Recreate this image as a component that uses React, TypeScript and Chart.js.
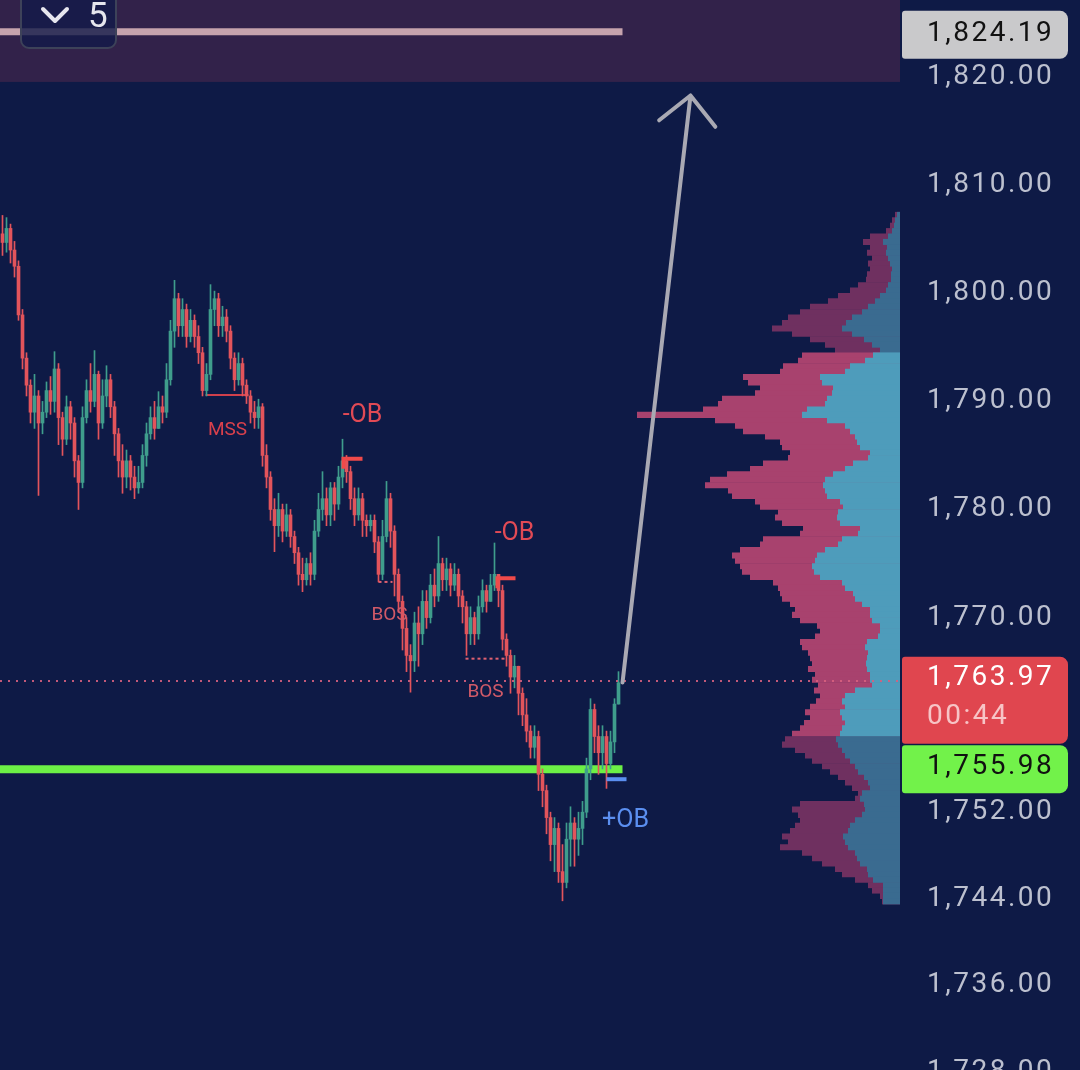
import React, { useEffect, useRef } from 'react';
import { Chart, registerables } from 'chart.js';

Chart.register(...registerables);

// ---------- price candles (5-min) ----------
const firstOpen = 1805.5;
const closes = [
  1804.7, 1806.0, 1804.0, 1802.5, 1798.0, 1794.0, 1791.5, 1789.0, 1790.5, 1788.0,
  1789.0, 1791.0, 1790.0, 1793.0, 1788.5, 1786.5, 1789.5, 1788.0, 1784.5, 1782.5,
  1788.5, 1791.0, 1790.0, 1792.5, 1788.0, 1790.5, 1792.0, 1789.5, 1787.0, 1784.5,
  1783.0, 1784.5, 1783.0, 1782.0, 1782.5, 1785.0, 1787.0, 1788.5, 1787.5, 1789.5,
  1789.0, 1792.0, 1796.5, 1799.5, 1797.0, 1798.5, 1796.0, 1797.5, 1796.0, 1794.5,
  1791.0, 1792.5, 1798.5, 1799.5, 1797.0, 1797.8, 1796.5, 1794.0, 1792.0, 1793.5,
  1791.5, 1790.5, 1789.0, 1788.5, 1789.5, 1785.0, 1783.0, 1780.0, 1778.5, 1780.0,
  1778.0, 1779.5, 1777.5, 1776.0, 1774.0, 1773.5, 1775.0, 1774.0, 1778.0, 1780.0,
  1781.0, 1779.5, 1782.0, 1780.5, 1783.0, 1784.5, 1783.5, 1781.0, 1779.5, 1781.0,
  1779.0, 1778.5, 1779.0, 1777.0, 1774.0, 1777.5, 1781.0, 1778.0, 1774.0, 1771.5,
  1769.0, 1766.5, 1766.0, 1769.5, 1768.5, 1771.5, 1770.0, 1773.0, 1772.0, 1775.0,
  1773.5, 1774.5, 1773.0, 1774.0, 1772.0, 1771.0, 1768.5, 1770.0, 1768.5, 1771.0,
  1772.5, 1771.5, 1773.0, 1774.0, 1772.5, 1768.0, 1766.5, 1764.5, 1765.5, 1763.0,
  1761.0, 1759.5, 1758.0, 1759.0, 1755.5, 1754.0, 1751.5, 1749.0, 1750.5, 1746.5,
  1745.5, 1749.5, 1751.0, 1749.5, 1750.5, 1752.0, 1756.0, 1761.5, 1759.0, 1757.5,
  1759.0, 1756.5, 1758.5, 1762.0, 1763.97,
];
const highs = [
  1807.2, 1807.0, 1806.4, 1804.8, 1803.0, 1798.5, 1794.5, 1792.0, 1792.5, 1791.0,
  1790.0, 1791.8, 1792.3, 1794.6, 1793.5, 1789.0, 1790.5, 1790.0, 1788.5, 1785.0,
  1789.5, 1792.0, 1793.5, 1794.7, 1792.8, 1792.0, 1793.3, 1792.5, 1790.0, 1787.5,
  1786.0, 1785.5, 1785.0, 1784.0, 1784.0, 1786.0, 1788.0, 1789.5, 1790.0, 1790.9,
  1790.5, 1793.5, 1797.5, 1801.2, 1800.0, 1799.5, 1799.0, 1798.5, 1798.0, 1797.0,
  1795.0, 1793.5, 1800.8, 1800.2, 1800.0, 1798.8, 1798.5, 1797.0, 1794.5, 1794.5,
  1794.0, 1792.0, 1791.0, 1790.0, 1790.2, 1789.8, 1786.0, 1783.5, 1781.0, 1781.5,
  1780.5, 1780.5, 1780.0, 1778.0, 1776.5, 1775.5, 1775.5, 1776.0, 1779.0, 1781.5,
  1783.5, 1782.0, 1782.5, 1782.5, 1784.0, 1786.5, 1785.0, 1784.0, 1782.0, 1782.0,
  1781.5, 1779.5, 1779.5, 1779.5, 1777.5, 1779.0, 1782.6, 1781.5, 1778.5, 1774.5,
  1772.0, 1770.0, 1767.5, 1770.5, 1771.0, 1772.5, 1772.5, 1774.0, 1774.5, 1777.5,
  1775.5, 1775.5, 1775.0, 1775.0, 1774.5, 1772.5, 1771.5, 1771.0, 1770.5, 1772.0,
  1773.5, 1773.0, 1774.0, 1776.9, 1774.0, 1773.0, 1768.5, 1767.0, 1766.5, 1765.5,
  1763.5, 1762.5, 1760.0, 1760.0, 1759.5, 1756.0, 1754.5, 1752.0, 1751.5, 1751.0,
  1749.0, 1751.0, 1752.5, 1751.5, 1752.0, 1753.0, 1757.0, 1762.5, 1762.0, 1760.0,
  1760.0, 1759.5, 1759.5, 1762.5, 1765.0,
];
const lows = [
  1803.5, 1803.8, 1802.8, 1801.5, 1797.5, 1793.0, 1790.5, 1788.0, 1787.5, 1781.3,
  1787.0, 1788.5, 1788.8, 1789.0, 1786.0, 1785.0, 1786.0, 1786.5, 1783.0, 1780.0,
  1782.0, 1788.0, 1789.0, 1789.5, 1786.5, 1787.5, 1789.5, 1788.5, 1785.0, 1783.0,
  1781.5, 1782.0, 1781.8, 1781.0, 1781.5, 1782.0, 1784.0, 1786.5, 1786.5, 1787.5,
  1788.0, 1788.5, 1791.5, 1795.0, 1796.0, 1796.0, 1795.0, 1795.5, 1795.0, 1793.5,
  1790.5, 1790.5, 1792.0, 1797.0, 1796.0, 1796.0, 1795.5, 1793.0, 1791.0, 1791.5,
  1790.5, 1789.8, 1788.0, 1787.5, 1787.5, 1784.0, 1782.0, 1779.0, 1776.1, 1777.5,
  1777.0, 1777.5, 1776.5, 1775.0, 1773.0, 1772.4, 1773.0, 1773.0, 1773.5, 1777.5,
  1779.0, 1778.5, 1778.5, 1779.0, 1780.0, 1782.0, 1782.5, 1780.0, 1778.5, 1779.0,
  1777.5, 1777.5, 1778.0, 1776.0, 1773.3, 1773.5, 1777.0, 1776.5, 1772.0, 1770.5,
  1767.0, 1765.0, 1763.1, 1765.0, 1765.5, 1767.5, 1769.0, 1769.5, 1771.0, 1771.5,
  1772.5, 1772.5, 1772.0, 1772.5, 1771.0, 1769.5, 1766.5, 1767.5, 1767.5, 1768.0,
  1770.5, 1770.5, 1771.5, 1772.5, 1771.0, 1767.0, 1765.5, 1763.0, 1763.5, 1761.0,
  1760.0, 1758.5, 1757.0, 1757.0, 1754.0, 1752.5, 1750.0, 1747.5, 1746.5, 1745.5,
  1743.8, 1745.0, 1747.0, 1747.0, 1748.0, 1749.0, 1751.5, 1755.0, 1757.5, 1755.5,
  1756.0, 1754.2, 1756.0, 1757.5, 1762.0,
];

// ---------- volume profile (rows of 0.5, from the top row down) ----------
const profileTopRow = 1807.25;
const profileRowSize = 0.5;
const profileTotal = [
  5, 8, 10, 14, 30, 37, 30, 33, 28, 32, 30, 33, 34, 42, 50, 62, 72, 90, 100, 112,
  118, 128, 108, 90, 75, 65,
  98, 102, 117, 120, 157, 152, 140, 145, 178, 182, 197, 263, 185, 165, 157, 135, 120, 118, 110, 112,
  137, 150, 173, 190, 195, 172, 168, 145, 140, 122, 125, 118, 97, 100, 137, 140, 160, 168, 165, 160,
  158, 150, 127, 122, 120, 118, 110, 105, 108, 100, 83, 80, 85, 100, 98, 92, 90, 88, 92, 85,
  88, 82, 86, 80, 84, 90, 95, 90, 96, 100, 108,
  115, 118, 105, 95, 88, 78, 70, 62, 55, 48, 42, 45, 100, 108, 102, 100, 105, 110, 118, 112,
  120, 98, 88, 78, 65, 58, 45, 32, 28, 20, 18,
];
const profileBuy = [
  3, 5, 6, 8, 12, 17, 13, 14, 12, 10, 8, 9, 9, 12, 14, 20, 25, 32, 38, 48,
  54, 58, 48, 36, 28, 20,
  27, 35, 50, 55, 80, 78, 67, 68, 73, 75, 93, 98, 73, 55, 50, 45, 43, 40, 30, 32,
  47, 55, 67, 75, 77, 75, 73, 60, 57, 62, 63, 60, 40, 42, 58, 62, 75, 83, 85, 88,
  86, 80, 58, 55, 47, 45, 38, 30, 30, 28, 20, 20, 22, 33, 35, 32, 33, 34, 33, 30,
  30, 28, 45, 55, 58, 55, 60, 58, 55, 58, 60,
  64, 62, 58, 55, 50, 45, 42, 36, 32, 30, 38, 40, 36, 35, 38, 45, 50, 52, 57, 55,
  52, 45, 43, 40, 33, 32, 27, 17, 17, 17, 17,
];
const valueAreaHigh = 1794.5;
const valueAreaLow = 1759.0;

// ---------- axis / levels ----------
const yTickValues = [1820, 1810, 1800, 1790, 1780, 1770, 1752, 1744, 1736, 1728];
const yRange = [1728.15, 1827.13];
const xRange = [-0.625, 224.375];
const topZone = [1819.55, 1835];
const rangeLevel = 1824.19;
const lastPrice = 1763.97;
const countdown = '00:44';
const supportLevel = 1755.98;
const levelEndIndex = 155;

// structure lines: [fromIndex, toIndex, price]
const mssLine = [50.75, 61.5, 1790.6];
const bosLines = [
  [94.0, 97.5, 1773.3],
  [115.75, 125.75, 1766.2],
];
// order blocks: [fromIndex, toIndex, price]
const bearOBs = [
  [85.25, 90.0, 1784.7],
  [123.75, 128.25, 1773.65],
];
const bullOBs = [[151.0, 156.0, 1755.05]];
// text notes
const noteTexts = ['-OB', '-OB', 'MSS', 'BOS', 'BOS', '+OB'];
const noteIndex = [90.0, 128.0, 56.25, 96.75, 120.75, 155.75];
const notePrice = [1788.7, 1777.8, 1787.35, 1770.25, 1763.1, 1751.2];
// projection arrow
const arrowFrom = [155.0, 1764.0];
const arrowTo = [172.0, 1818.3];
const intervalLabel = '5';

// ---------- styles ----------
const BG = '#0e1a46';
const UP = '#3f9d8c';
const DOWN = '#e2545b';

const opens = closes.map((_, i) => (i === 0 ? firstOpen : closes[i - 1]));
const wickData = closes.map((c, i) => ({
  x: i,
  y: [Math.min(lows[i], opens[i], c), Math.max(highs[i], opens[i], c)],
}));
const bodyData = closes.map((c, i) => ({ x: i, y: [opens[i], c] }));
const candleColors = closes.map((c, i) => (c >= opens[i] ? UP : DOWN));

const rowPrices = profileTotal.map((_, i) => profileTopRow - i * profileRowSize);
const inVA = (p: number) => p <= valueAreaHigh && p >= valueAreaLow;
const totalData = profileTotal.map((v, i) => ({ x: v, y: rowPrices[i] }));
const buyData = profileBuy.map((v, i) => ({ x: v, y: rowPrices[i] }));
const totalColors = rowPrices.map((p) => (inVA(p) ? '#a8426e' : '#6f3060'));
const buyColors = rowPrices.map((p) => (inVA(p) ? '#4e9cbb' : '#3a6b90'));

const fmt = (v: number) => {
  const s = v.toFixed(2);
  const [a, b] = s.split('.');
  return a.replace(/\B(?=(\d{3})+(?!\d))/g, ',') + '.' + b;
};

const overlayPlugin = {
  id: 'overlay',
  beforeDraw(chart: any) {
    const { ctx, width, height, chartArea } = chart;
    const y = chart.scales.y;
    ctx.save();
    ctx.fillStyle = BG;
    ctx.fillRect(0, 0, width, height);
    const top = Math.max(0, y.getPixelForValue(topZone[1]));
    const bot = y.getPixelForValue(topZone[0]);
    ctx.fillStyle = '#32224a';
    ctx.fillRect(chartArea.left, top, chartArea.right - chartArea.left, bot - top);
    ctx.restore();
    ctx.letterSpacing = '2.5px';
  },
  beforeDatasetsDraw(chart: any) {
    const { ctx } = chart;
    const x = chart.scales.x;
    const y = chart.scales.y;
    const x0 = chart.chartArea.left;
    const xEnd = x.getPixelForValue(levelEndIndex);
    ctx.save();
    ctx.strokeStyle = '#c6a3ad';
    ctx.lineWidth = 7;
    ctx.beginPath();
    ctx.moveTo(x0, y.getPixelForValue(rangeLevel));
    ctx.lineTo(xEnd, y.getPixelForValue(rangeLevel));
    ctx.stroke();
    ctx.strokeStyle = '#6cf046';
    ctx.lineWidth = 8;
    ctx.beginPath();
    ctx.moveTo(x0, y.getPixelForValue(supportLevel));
    ctx.lineTo(xEnd, y.getPixelForValue(supportLevel));
    ctx.stroke();
    ctx.strokeStyle = '#d0404c';
    ctx.lineWidth = 2;
    ctx.beginPath();
    ctx.moveTo(x.getPixelForValue(mssLine[0]), y.getPixelForValue(mssLine[2]));
    ctx.lineTo(x.getPixelForValue(mssLine[1]), y.getPixelForValue(mssLine[2]));
    ctx.stroke();
    ctx.strokeStyle = '#e06070';
    ctx.setLineDash([3, 3]);
    bosLines.forEach((b) => {
      ctx.beginPath();
      ctx.moveTo(x.getPixelForValue(b[0]), y.getPixelForValue(b[2]));
      ctx.lineTo(x.getPixelForValue(b[1]), y.getPixelForValue(b[2]));
      ctx.stroke();
    });
    ctx.restore();
  },
  afterDatasetsDraw(chart: any) {
    const { ctx, chartArea } = chart;
    const x = chart.scales.x;
    const y = chart.scales.y;
    ctx.save();
    ctx.letterSpacing = '0px';
    ctx.strokeStyle = 'rgba(214,96,126,0.9)';
    ctx.lineWidth = 2;
    ctx.setLineDash([2, 6]);
    ctx.beginPath();
    const lp = Math.round(y.getPixelForValue(lastPrice)) - 2;
    ctx.moveTo(chartArea.left, lp);
    ctx.lineTo(chartArea.right, lp);
    ctx.stroke();
    ctx.setLineDash([]);
    ctx.lineWidth = 4;
    ctx.strokeStyle = '#f04a4a';
    bearOBs.forEach((o) => {
      const py = y.getPixelForValue(o[2]);
      const xa = x.getPixelForValue(o[0]);
      ctx.beginPath();
      ctx.moveTo(xa, py + 10);
      ctx.lineTo(xa, py);
      ctx.lineTo(x.getPixelForValue(o[1]), py);
      ctx.stroke();
    });
    ctx.strokeStyle = '#5b8ff0';
    bullOBs.forEach((o) => {
      const py = y.getPixelForValue(o[2]);
      ctx.beginPath();
      ctx.moveTo(x.getPixelForValue(o[0]), py);
      ctx.lineTo(x.getPixelForValue(o[1]), py);
      ctx.stroke();
    });
    ctx.textAlign = 'center';
    ctx.textBaseline = 'middle';
    noteTexts.forEach((t, i) => {
      let size = 25;
      let color = '#e24a55';
      if (t === 'MSS') { size = 19; color = '#d8404c'; }
      if (t === 'BOS') { size = 19; color = '#d25a68'; }
      if (t.startsWith('+')) { color = '#5b8ff0'; }
      ctx.font = `${size}px Roboto`;
      ctx.fillStyle = color;
      ctx.fillText(t, x.getPixelForValue(noteIndex[i]), y.getPixelForValue(notePrice[i]));
    });
    const ax0 = x.getPixelForValue(arrowFrom[0]);
    const ay0 = y.getPixelForValue(arrowFrom[1]);
    const ax1 = x.getPixelForValue(arrowTo[0]);
    const ay1 = y.getPixelForValue(arrowTo[1]);
    const ang = Math.atan2(ay0 - ay1, ax0 - ax1);
    const head = 40;
    ctx.strokeStyle = '#a9a9b3';
    ctx.lineWidth = 4;
    ctx.lineCap = 'round';
    ctx.lineJoin = 'round';
    ctx.beginPath();
    ctx.moveTo(ax0, ay0);
    ctx.lineTo(ax1, ay1);
    ctx.moveTo(ax1 + head * Math.cos(ang + Math.PI / 4), ay1 + head * Math.sin(ang + Math.PI / 4));
    ctx.lineTo(ax1, ay1);
    ctx.lineTo(ax1 + head * Math.cos(ang - Math.PI / 4), ay1 + head * Math.sin(ang - Math.PI / 4));
    ctx.stroke();
    ctx.lineCap = 'butt';
    ctx.beginPath();
    ctx.roundRect(chartArea.left + 21, -12, 95, 60, 8);
    ctx.fillStyle = 'rgba(17,26,72,0.8)';
    ctx.fill();
    ctx.strokeStyle = '#3d4259';
    ctx.lineWidth = 2;
    ctx.stroke();
    ctx.strokeStyle = '#e6e6ee';
    ctx.lineWidth = 4;
    ctx.lineCap = 'round';
    ctx.beginPath();
    ctx.moveTo(chartArea.left + 43, 9);
    ctx.lineTo(chartArea.left + 55, 21);
    ctx.lineTo(chartArea.left + 67, 9);
    ctx.stroke();
    ctx.fillStyle = '#e6e6ee';
    ctx.font = '35px Roboto';
    ctx.textAlign = 'left';
    ctx.textBaseline = 'alphabetic';
    ctx.fillText(intervalLabel, chartArea.left + 88, 27);
    ctx.restore();
  },
  afterDraw(chart: any) {
    const { ctx, chartArea } = chart;
    const y = chart.scales.y;
    const left = chartArea.right + 2;
    const w = 166;
    const tx = chartArea.right + 27;
    ctx.save();
    ctx.letterSpacing = '2.5px';
    ctx.font = '28px Roboto';
    ctx.textAlign = 'left';
    ctx.textBaseline = 'middle';
    const tag = (top: number, h: number, fill: string) => {
      ctx.beginPath();
      ctx.roundRect(left, top, w, h, [3, 8, 8, 3]);
      ctx.fillStyle = fill;
      ctx.fill();
    };
    const gy = y.getPixelForValue(rangeLevel);
    tag(gy - 21, 48, '#c9c9cb');
    ctx.fillStyle = '#111111';
    ctx.fillText(fmt(rangeLevel), tx, gy + 2);

    const ry = y.getPixelForValue(lastPrice);
    tag(ry - 26, 87, '#e0464f');
    ctx.fillStyle = '#ffffff';
    ctx.fillText(fmt(lastPrice), tx, ry - 5);
    ctx.fillStyle = '#f7c4c6';
    ctx.fillText(countdown, tx, ry + 34);

    const sy = y.getPixelForValue(supportLevel);
    tag(sy - 24, 48, '#72f24a');
    ctx.fillStyle = '#111111';
    ctx.fillText(fmt(supportLevel), tx, sy - 2);
    ctx.restore();
  },
};

export default function App() {
  const ref = useRef<HTMLCanvasElement>(null);
  useEffect(() => {
    const canvas = ref.current;
    if (!canvas) return;
    const chart = new Chart(canvas, {
      type: 'bar',
      data: {
        datasets: [
          {
            label: 'wick',
            data: wickData as any,
            xAxisID: 'x',
            yAxisID: 'y',
            backgroundColor: candleColors,
            barThickness: 1,
            grouped: false,
            borderWidth: 0,
            order: 2,
          },
          {
            label: 'body',
            data: bodyData as any,
            xAxisID: 'x',
            yAxisID: 'y',
            backgroundColor: candleColors,
            barThickness: 3,
            minBarLength: 1,
            grouped: false,
            borderWidth: 0,
            order: 1,
          },
          {
            label: 'buy volume',
            indexAxis: 'y',
            data: buyData as any,
            xAxisID: 'xP',
            yAxisID: 'yP',
            backgroundColor: buyColors,
            categoryPercentage: 1,
            barPercentage: 1.12,
            grouped: false,
            borderWidth: 0,
            order: 3,
          } as any,
          {
            label: 'total volume',
            indexAxis: 'y',
            data: totalData as any,
            xAxisID: 'xP',
            yAxisID: 'yP',
            backgroundColor: totalColors,
            categoryPercentage: 1,
            barPercentage: 1.12,
            grouped: false,
            borderWidth: 0,
            order: 4,
          } as any,
        ],
      },
      options: {
        responsive: false,
        animation: false,
        devicePixelRatio: 1,
        events: [],
        layout: { padding: 0, autoPadding: false } as any,
        plugins: { legend: { display: false }, tooltip: { enabled: false } },
        scales: {
          x: {
            type: 'linear',
            display: false,
            min: xRange[0],
            max: xRange[1],
            offset: false,
            grid: { offset: false },
          },
          xP: {
            type: 'linear',
            display: false,
            min: 0,
            max: 900,
            reverse: true,
            offset: false,
            beginAtZero: false,
            grid: { offset: false },
          },
          yP: {
            type: 'linear',
            display: false,
            position: 'right',
            min: yRange[0],
            max: yRange[1],
            offset: false,
            grid: { offset: false },
          },
          y: {
            type: 'linear',
            position: 'right',
            min: yRange[0],
            max: yRange[1],
            offset: false,
            grid: { display: false, drawTicks: false },
            border: { display: false },
            afterBuildTicks: (scale: any) => {
              scale.ticks = yTickValues.map((v) => ({ value: v }));
            },
            afterFit: (scale: any) => {
              scale.width = 180;
              scale.paddingTop = 0;
              scale.paddingBottom = 0;
            },
            ticks: {
              autoSkip: false,
              padding: 27,
              color: '#bcc0cf',
              font: { family: 'Roboto', size: 28 },
              callback: (v: any) => fmt(Number(v)),
            },
          },
        },
      },
      plugins: [overlayPlugin],
    });
    return () => chart.destroy();
  }, []);
  return (
    <div style={{ position: 'fixed', left: 0, top: 0, width: 1080, height: 1070, background: BG, overflow: 'hidden' }}>
      <canvas ref={ref} width={1080} height={1070} style={{ display: 'block', width: 1080, height: 1070 }} />
    </div>
  );
}
